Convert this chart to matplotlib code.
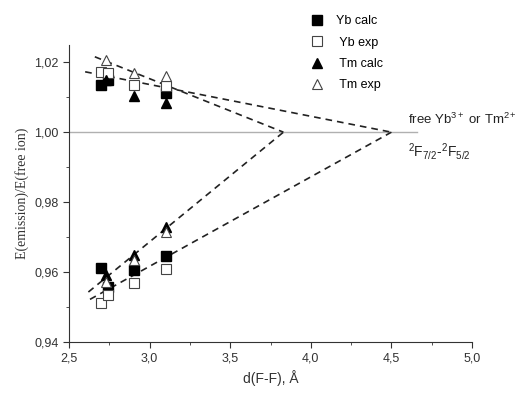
import numpy as np
import matplotlib.pyplot as plt
from matplotlib.ticker import MultipleLocator, FuncFormatter

plt.rcParams['font.family'] = ['Liberation Sans', 'DejaVu Sans']
plt.rcParams['mathtext.fontset'] = 'custom'
plt.rcParams['mathtext.rm'] = 'Liberation Sans'
plt.rcParams['mathtext.it'] = 'Liberation Sans'

# measured points (upper branch ~1.01-1.02, lower branch ~0.95-0.97)
yb_calc_x = [2.70, 2.74, 3.10, 2.70, 2.74, 2.90, 3.10]
yb_calc_y = [1.0135, 1.0149, 1.0112, 0.9610, 0.9555, 0.9606, 0.9646]
yb_exp_x = [2.70, 2.74, 2.90, 3.10, 2.70, 2.74, 2.90, 3.10]
yb_exp_y = [1.0173, 1.0170, 1.0136, 1.0132, 0.9510, 0.9534, 0.9567, 0.9608]
tm_calc_x = [2.73, 2.90, 3.10, 2.73, 2.90, 3.10]
tm_calc_y = [1.0150, 1.0103, 1.0083, 0.9590, 0.9648, 0.9728]
tm_exp_x = [2.73, 2.90, 3.10, 2.73, 2.90, 3.10]
tm_exp_y = [1.0207, 1.0170, 1.0160, 0.9570, 0.9635, 0.9713]

# dashed fit lines: (x0, y0, x1, y1)
fits = [
    (2.66, 1.0216, 3.83, 1.0),
    (2.62, 0.9542, 3.83, 1.0),
    (2.60, 1.0173, 4.50, 1.0),
    (2.63, 0.9521, 4.50, 1.0),
]

fig = plt.figure(figsize=(5.23, 3.94), dpi=100)
ax = fig.add_axes([0.132, 0.133, 0.7705, 0.753])

ax.plot([2.5, 4.66], [1.0, 1.0], color="#b0b0b0", lw=1, zorder=1)
for x0, y0, x1, y1 in fits:
    ax.plot([x0, x1], [y0, y1], color="#222222", ls=(0, (4, 3)), lw=1.2, zorder=2)

ms = 6.5
ax.plot(yb_calc_x, yb_calc_y, "s", color="k", ms=ms, ls="none", label="Yb calc", zorder=3)
ax.plot(yb_exp_x, yb_exp_y, "s", mfc="white", mec="#444444", mew=0.8, ms=ms, ls="none", label=" Yb exp", zorder=3)
ax.plot(tm_calc_x, tm_calc_y, "^", color="k", ms=ms + 1, ls="none", label=" Tm calc", zorder=4)
ax.plot(tm_exp_x, tm_exp_y, "^", mfc="white", mec="#444444", mew=0.8, ms=ms + 1, ls="none", label=" Tm exp", zorder=4)

ax.set_xlim(2.5, 5.0)
ax.set_ylim(0.94, 1.025)
ax.xaxis.set_major_locator(MultipleLocator(0.5))
ax.xaxis.set_minor_locator(MultipleLocator(0.25))
ax.yaxis.set_major_locator(MultipleLocator(0.02))
ax.yaxis.set_minor_locator(MultipleLocator(0.01))
ax.xaxis.set_major_formatter(FuncFormatter(lambda v, p: f"{v:.1f}".replace(".", ",")))
ax.yaxis.set_major_formatter(FuncFormatter(lambda v, p: f"{v:.2f}".replace(".", ",")))
ax.tick_params(which="major", direction="out", length=4, labelsize=9, color="#333333", labelcolor="#333333")
ax.tick_params(which="minor", direction="out", length=2.5, color="#333333")
for s in ["top", "right"]:
    ax.spines[s].set_visible(False)
for s in ["left", "bottom"]:
    ax.spines[s].set_color("#333333")

ax.set_xlabel("d(F-F), Å", fontsize=10, color="#333333", labelpad=4)
ax.set_ylabel("E(emission)/E(free ion)", fontsize=10, color="#333333", family=["Liberation Serif", "DejaVu Serif"])

ax.text(4.6, 1.0037, "free Yb$^{3+}$ or Tm$^{2+}$", fontsize=9.5, color="#222222", va="center")
ax.text(4.6, 0.9945, "$^{2}$F$_{7/2}$-$^{2}$F$_{5/2}$", fontsize=10, color="#222222", va="center")

fig.legend(loc="upper left", bbox_to_anchor=(0.57, 0.99), frameon=False, fontsize=9,
           handletextpad=0.9, labelspacing=0.75, handlelength=1.2)

fig.savefig("out.png", dpi=100)
